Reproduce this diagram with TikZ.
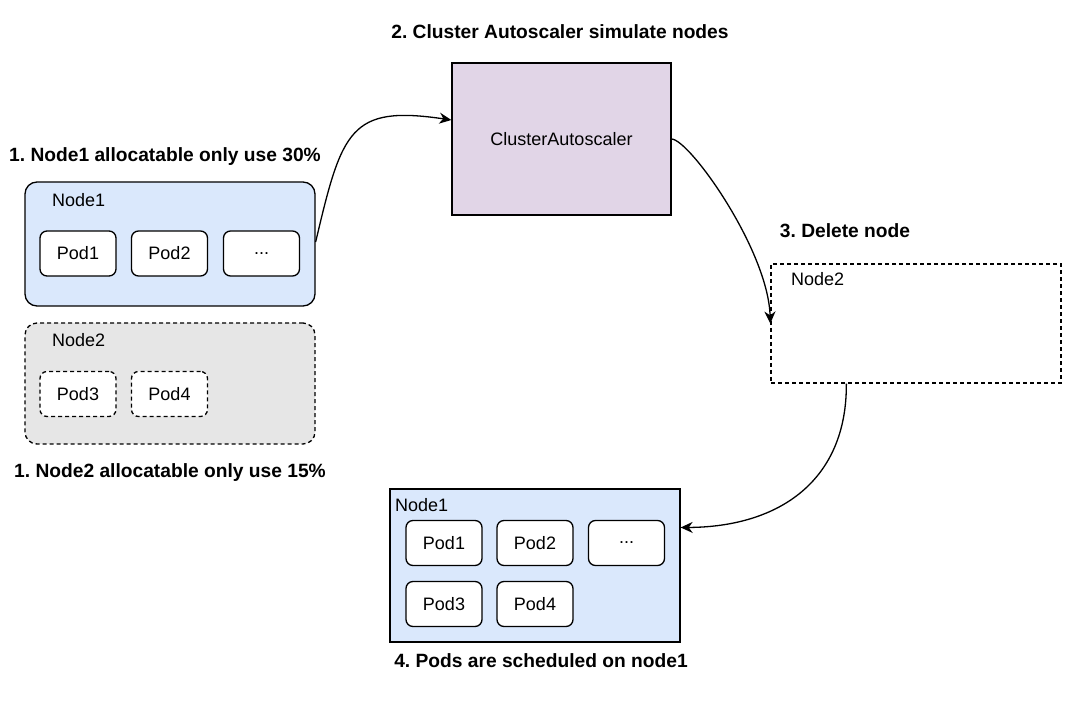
\documentclass[tikz,border=0pt]{standalone}
\usepackage{fontspec}
\setmainfont{Liberation Sans}
\usetikzlibrary{arrows.meta}
\definecolor{hostblue}{HTML}{DAE8FC}
\definecolor{hostgray}{HTML}{E6E6E6}
\definecolor{scalerpink}{HTML}{E1D5E7}
\frenchspacing

\begin{document}
\begin{tikzpicture}[x=1pt,y=-1pt,
  every node/.style={font=\fontsize{18}{21}\selectfont,inner sep=0pt},
  title/.style={font=\bfseries\fontsize{19.2}{22}\selectfont},
  host/.style={draw,line width=1.3pt,minimum width=290pt},
  pod/.style={draw,line width=1.3pt,fill=white,rounded corners=7pt,minimum width=76pt,minimum height=45pt},
  gone/.style={dash pattern=on 4pt off 3pt},
  flow/.style={line width=1.3pt,-{Stealth[length=12pt,width=11pt]}}]
\path[use as bounding box] (0,0) rectangle (1080,711);
% left side: node1 and node2 before scale down
\node[host,fill=hostblue,rounded corners=12pt,minimum height=124pt] (n1) at (170,244) {};
\node[anchor=west] (n1lbl) at (52,200) {Node1};
\node[pod] (p1) at (78,253.5) {Pod1};
\node[pod] (p2) at (169.5,253.5) {Pod2};
\node[pod] (pmore) at (261.5,253.5) {...};
\node[host,gone,fill=hostgray,rounded corners=12pt,minimum height=121pt] (n2) at (170,383.5) {};
\node[anchor=west] (n2lbl) at (52,340) {Node2};
\node[pod,gone] (p3) at (78,394) {Pod3};
\node[pod,gone] (p4) at (169.5,394) {Pod4};
\node[title] (t1) at (165,157) {1. Node1 allocatable only use 30\%};
\node[title] (t1b) at (170,473) {1. Node2 allocatable only use 15\%};
% autoscaler
\node[draw,line width=1.3pt,fill=scalerpink,minimum width=219pt,minimum height=152pt] (ca) at (561.5,139) {ClusterAutoscaler};
\node[title] (t2) at (560,32) {2. Cluster Autoscaler simulate nodes};
% deleted node2
\node[host,gone,minimum height=119pt] (n2r) at (916,323.5) {};
\node[anchor=west] (n2rlbl) at (791,279) {Node2};
\node[title] (t3) at (845,231) {3. Delete node};
% node1 after scheduling
\node[host,fill=hostblue,minimum height=153pt] (n1b) at (535,565.5) {};
\node[anchor=west] (n1blbl) at (395,505) {Node1};
\node[pod] (q1) at (444,543) {Pod1};
\node[pod] (q2) at (535,543) {Pod2};
\node[pod] (qmore) at (626.5,543) {...};
\node[pod] (q3) at (444,604) {Pod3};
\node[pod] (q4) at (535,604) {Pod4};
\node[title] (t4) at (541,661) {4. Pods are scheduled on node1};
% arrows
\draw[flow] ([yshift=2pt]n1.east) .. controls (342,130) and (350,105) .. ([yshift=19pt]ca.west);
\draw[flow] (ca.east) .. controls (690,140) and (768,250) .. (n2r.west);
\draw[flow] ([xshift=76pt]n2r.south west) .. controls (847,480) and (780,527) .. ([yshift=38pt]n1b.east);
\end{tikzpicture}
\end{document}
